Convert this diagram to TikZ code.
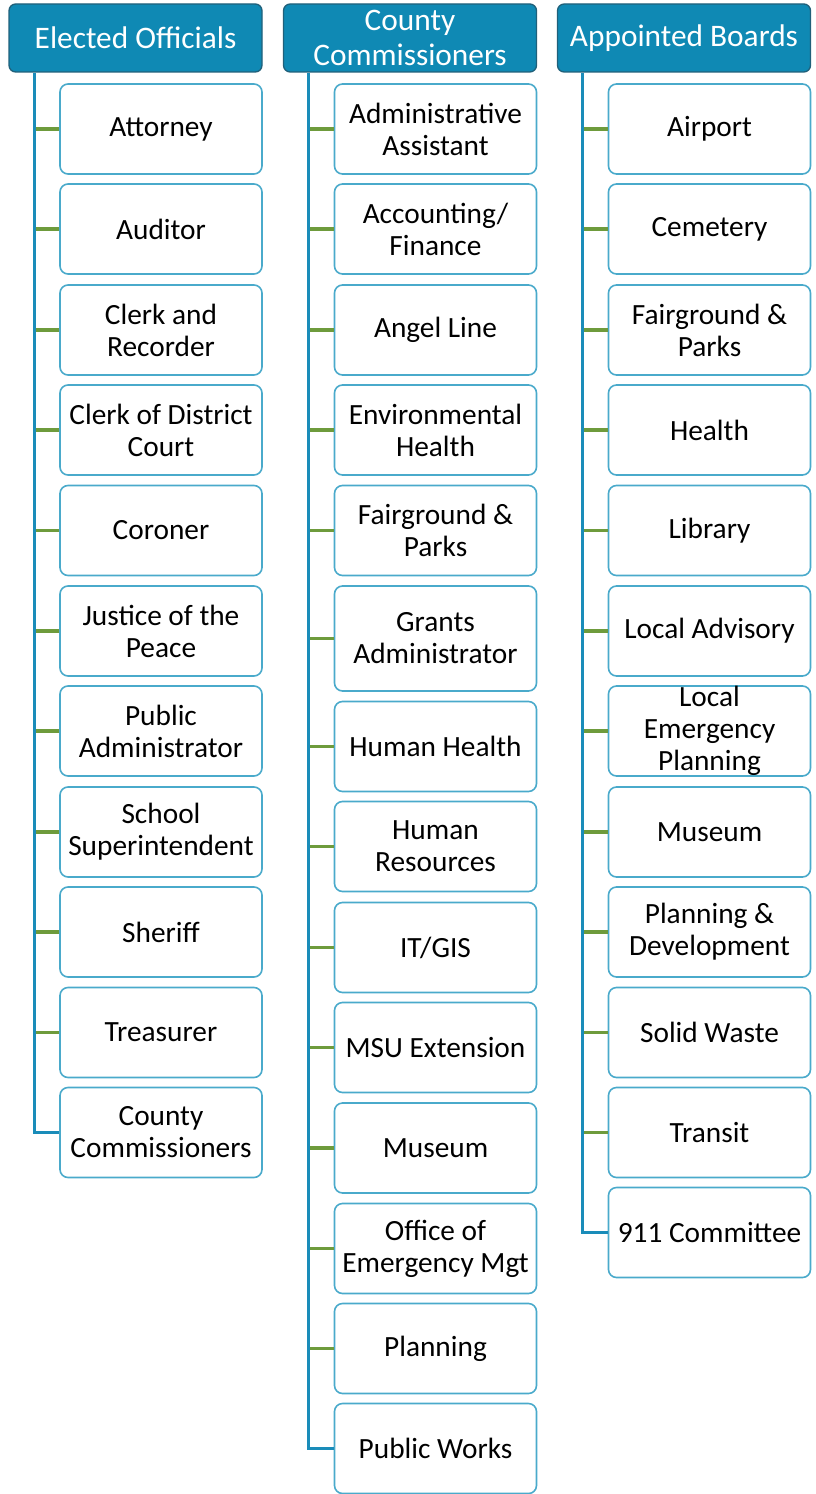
\documentclass[tikz,border=0pt]{standalone}
\usepackage{fontspec}
\setmainfont{Carlito}
\definecolor{hdrfill}{HTML}{0F89B4}
\definecolor{hdrdraw}{HTML}{20607A}
\definecolor{boxdraw}{HTML}{4AAACB}
\definecolor{trunkc}{HTML}{1A8CB9}
\definecolor{stubc}{HTML}{6E9B3C}
\begin{document}
\begin{tikzpicture}[x=0.75pt,y=-0.75pt,
  hdr/.style={draw=hdrdraw,line width=1pt,fill=hdrfill,rounded corners=5pt,
    minimum width=189.75pt,minimum height=51pt,inner sep=0pt,align=center,
    text=white,font=\fontsize{23.5pt}{26pt}\selectfont},
  unit/.style={draw=boxdraw,line width=1.2pt,fill=white,rounded corners=6pt,
    minimum width=151.5pt,minimum height=67.5pt,inner sep=0pt,align=center,
    text=black,font=\fontsize{22pt}{24pt}\selectfont},
  tall/.style={minimum height=78.75pt},
  trunk/.style={draw=trunkc,line width=2.4pt},
  stub/.style={draw=stubc,line width=2.3pt}]
\useasboundingbox (0,0) rectangle (815,1494);
% headers
\node[hdr] (h1) at (135.5,38) {Elected Officials};
\node[hdr] (h2) at (410,38) {County\\Commissioners};
\node[hdr] (h3) at (684,38) {Appointed Boards};
\coordinate (t1) at ([xshift=19.5pt]h1.south west);
\coordinate (t2) at ([xshift=19.5pt]h2.south west);
\coordinate (t3) at ([xshift=19.5pt]h3.south west);
% column 1
\node[unit] (a1) at (161,129) {Attorney};
\node[unit] (a2) at (161,229) {Auditor};
\node[unit] (a3) at (161,330) {Clerk and\\Recorder};
\node[unit] (a4) at (161,430) {Clerk of District\\Court};
\node[unit] (a5) at (161,530.5) {Coroner};
\node[unit] (a6) at (161,631) {Justice of the\\Peace};
\node[unit] (a7) at (161,731) {Public\\Administrator};
\node[unit] (a8) at (161,832) {School\\Superintendent};
\node[unit] (a9) at (161,932) {Sheriff};
\node[unit] (a10) at (161,1032.5) {Treasurer};
\node[unit] (a11) at (161,1132.5) {County\\Commissioners};
% column 2
\node[unit] (b1) at (435.5,129) {Administrative\\Assistant};
\node[unit] (b2) at (435.5,229) {Accounting/\\Finance};
\node[unit] (b3) at (435.5,330) {Angel Line};
\node[unit] (b4) at (435.5,430) {Environmental\\Health};
\node[unit] (b5) at (435.5,530.5) {Fairground \&\\Parks};
\node[unit,tall] (b6) at (435.5,638.5) {Grants\\Administrator};
\node[unit] (b7) at (435.5,746.5) {Human Health};
\node[unit] (b8) at (435.5,846.5) {Human\\Resources};
\node[unit] (b9) at (435.5,947.5) {IT/GIS};
\node[unit] (b10) at (435.5,1047.5) {MSU Extension};
\node[unit] (b11) at (435.5,1148) {Museum};
\node[unit] (b12) at (435.5,1248.5) {Office of\\Emergency Mgt};
\node[unit] (b13) at (435.5,1348.5) {Planning};
\node[unit] (b14) at (435.5,1448.5) {Public Works};
% column 3
\node[unit] (c1) at (709.5,129) {Airport};
\node[unit] (c2) at (709.5,229) {Cemetery};
\node[unit] (c3) at (709.5,330) {Fairground \&\\Parks};
\node[unit] (c4) at (709.5,430) {Health};
\node[unit] (c5) at (709.5,530.5) {Library};
\node[unit] (c6) at (709.5,631) {Local Advisory};
\node[unit] (c7) at (709.5,731) {Local\\Emergency\\Planning};
\node[unit] (c8) at (709.5,832) {Museum};
\node[unit] (c9) at (709.5,932) {Planning \&\\Development};
\node[unit] (c10) at (709.5,1032.5) {Solid Waste};
\node[unit] (c11) at (709.5,1132.5) {Transit};
\node[unit] (c12) at (709.5,1232.5) {911 Committee};
% stubs
\foreach \i in {1,...,10} \draw[stub] (a\i.west) -- (a\i.west -| t1);
\foreach \i in {1,...,13} \draw[stub] (b\i.west) -- (b\i.west -| t2);
\foreach \i in {1,...,11} \draw[stub] (c\i.west) -- (c\i.west -| t3);
% trunks
\draw[trunk] (t1) |- (a11.west);
\draw[trunk] (t2) |- (b14.west);
\draw[trunk] (t3) |- (c12.west);
\end{tikzpicture}
\end{document}
